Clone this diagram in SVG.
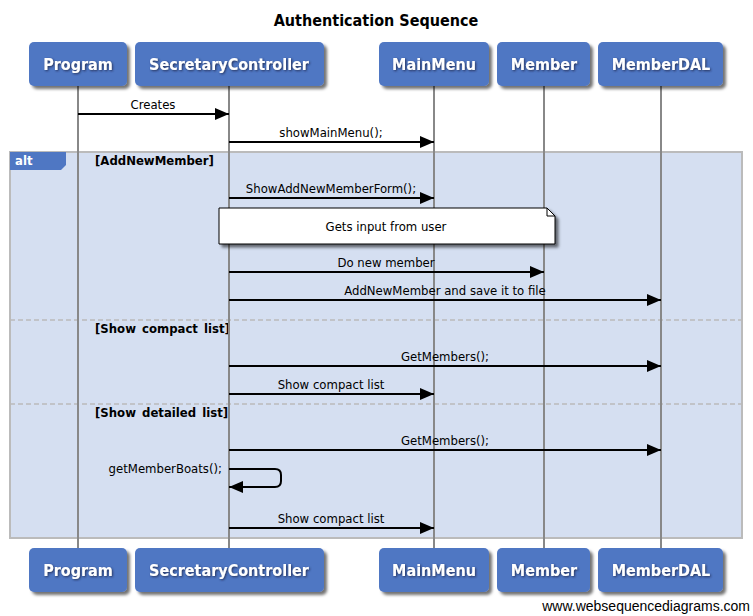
<svg xmlns="http://www.w3.org/2000/svg" width="753" height="616" viewBox="0 0 753 616">
<style>
.hdr rect{fill:#4f77c3;}
.hdr text{font-family:"DejaVu Sans Condensed","DejaVu Sans",sans-serif;font-weight:bold;font-size:16px;fill:#fff;text-anchor:middle;}
.lbl{font-family:"DejaVu Sans Condensed","DejaVu Sans",sans-serif;font-size:13px;fill:#000;text-anchor:middle;}
.guard{font-family:"DejaVu Sans Condensed","DejaVu Sans",sans-serif;font-weight:bold;font-size:13px;fill:#000;word-spacing:2px;}
.life{stroke:#888;stroke-width:2;}
.msg{stroke:#000;stroke-width:2;fill:none;}
</style>
<defs>
<filter id="sh" x="-10%" y="-10%" width="130%" height="140%">
<feDropShadow dx="3" dy="3" stdDeviation="1.5" flood-color="#000" flood-opacity="0.55"/>
</filter>
<filter id="ts" x="-10%" y="-30%" width="120%" height="160%">
<feDropShadow dx="1" dy="1" stdDeviation="1" flood-color="#1a2a50" flood-opacity="0.9"/>
</filter>
<marker id="ah" markerWidth="14" markerHeight="12" refX="14" refY="6" orient="auto" markerUnits="userSpaceOnUse">
<path d="M0,0 L14,6 L0,12 Z" fill="#000"/>
</marker>
</defs>
<rect width="753" height="616" fill="#fff"/>
<text x="376" y="26" style="font-family:'DejaVu Sans Condensed','DejaVu Sans',sans-serif;font-weight:bold;font-size:16px" text-anchor="middle">Authentication Sequence</text>

<g id="alt-frame">
<rect x="10" y="152" width="732" height="386" fill="#d5dff1" stroke="#bbb" stroke-width="2"/>
<line x1="10" y1="320" x2="742" y2="320" stroke="#bbb" stroke-width="1.5" stroke-dasharray="5,3"/>
<line x1="10" y1="404" x2="742" y2="404" stroke="#bbb" stroke-width="1.5" stroke-dasharray="5,3"/>
<path d="M10,152 H66 V165 L61,170 H10 Z" fill="#4f77c3"/>
<text x="15" y="165" style="font-family:'DejaVu Sans Condensed','DejaVu Sans',sans-serif;font-weight:bold;font-size:13px;fill:#fff">alt</text>
<text class="guard" x="95" y="165">[AddNewMember]</text>
<text class="guard" x="95" y="333">[Show compact list]</text>
<text class="guard" x="95" y="417">[Show detailed list]</text>
</g>

<g id="lifelines">
<line class="life" x1="78" y1="86" x2="78" y2="548"/>
<line class="life" x1="229" y1="86" x2="229" y2="548"/>
<line class="life" x1="434" y1="86" x2="434" y2="548"/>
<line class="life" x1="544" y1="86" x2="544" y2="548"/>
<line class="life" x1="661" y1="86" x2="661" y2="548"/>
</g>

<g id="node-program-top" class="hdr"><rect x="29" y="42" width="98" height="44" rx="5" filter="url(#sh)"/><text x="78" y="70" filter="url(#ts)">Program</text></g>
<g id="node-secretary-top" class="hdr"><rect x="135" y="42" width="189" height="44" rx="5" filter="url(#sh)"/><text x="229" y="70" filter="url(#ts)">SecretaryController</text></g>
<g id="node-mainmenu-top" class="hdr"><rect x="379" y="42" width="110" height="44" rx="5" filter="url(#sh)"/><text x="434" y="70" filter="url(#ts)">MainMenu</text></g>
<g id="node-member-top" class="hdr"><rect x="497" y="42" width="93" height="44" rx="5" filter="url(#sh)"/><text x="544" y="70" filter="url(#ts)">Member</text></g>
<g id="node-memberdal-top" class="hdr"><rect x="598" y="42" width="125" height="44" rx="5" filter="url(#sh)"/><text x="661" y="70" filter="url(#ts)">MemberDAL</text></g>

<g id="node-program-bottom" class="hdr"><rect x="29" y="548" width="98" height="44" rx="5" filter="url(#sh)"/><text x="78" y="576" filter="url(#ts)">Program</text></g>
<g id="node-secretary-bottom" class="hdr"><rect x="135" y="548" width="189" height="44" rx="5" filter="url(#sh)"/><text x="229" y="576" filter="url(#ts)">SecretaryController</text></g>
<g id="node-mainmenu-bottom" class="hdr"><rect x="379" y="548" width="110" height="44" rx="5" filter="url(#sh)"/><text x="434" y="576" filter="url(#ts)">MainMenu</text></g>
<g id="node-member-bottom" class="hdr"><rect x="497" y="548" width="93" height="44" rx="5" filter="url(#sh)"/><text x="544" y="576" filter="url(#ts)">Member</text></g>
<g id="node-memberdal-bottom" class="hdr"><rect x="598" y="548" width="125" height="44" rx="5" filter="url(#sh)"/><text x="661" y="576" filter="url(#ts)">MemberDAL</text></g>

<g id="connectors">
<line class="msg" x1="78" y1="114" x2="229" y2="114" marker-end="url(#ah)"/>
<text class="lbl" x="153" y="109">Creates</text>
<line class="msg" x1="229" y1="142" x2="434" y2="142" marker-end="url(#ah)"/>
<text class="lbl" x="331" y="137">showMainMenu();</text>
<line class="msg" x1="229" y1="198" x2="434" y2="198" marker-end="url(#ah)"/>
<text class="lbl" x="331" y="193">ShowAddNewMemberForm();</text>
<line class="msg" x1="229" y1="272" x2="544" y2="272" marker-end="url(#ah)"/>
<text class="lbl" x="386" y="267">Do new member</text>
<line class="msg" x1="229" y1="300" x2="661" y2="300" marker-end="url(#ah)"/>
<text class="lbl" x="445" y="295">AddNewMember and save it to file</text>
<line class="msg" x1="229" y1="366" x2="661" y2="366" marker-end="url(#ah)"/>
<text class="lbl" x="445" y="361">GetMembers();</text>
<line class="msg" x1="229" y1="394" x2="434" y2="394" marker-end="url(#ah)"/>
<text class="lbl" x="331" y="389">Show compact list</text>
<line class="msg" x1="229" y1="450" x2="661" y2="450" marker-end="url(#ah)"/>
<text class="lbl" x="445" y="445">GetMembers();</text>
<path class="msg" d="M229,469 H275 Q281,469 281,475 V481 Q281,487 275,487 H229" marker-end="url(#ah)"/>
<text class="lbl" x="222" y="473" style="text-anchor:end">getMemberBoats();</text>
<line class="msg" x1="229" y1="528" x2="434" y2="528" marker-end="url(#ah)"/>
<text class="lbl" x="331" y="523">Show compact list</text>
</g>

<g id="note">
<path d="M219,208 H547 L555,216 V244 H219 Z" fill="#fff" stroke="#000" stroke-width="1" filter="url(#sh)"/>
<path d="M547,208 V216 H555" fill="none" stroke="#000" stroke-width="1"/>
<text class="lbl" x="386" y="231">Gets input from user</text>
</g>

<text x="750" y="611" text-anchor="end" style="font-family:'Liberation Sans',Arial,sans-serif;font-size:14px;fill:#000">www.websequencediagrams.com</text>
</svg>
